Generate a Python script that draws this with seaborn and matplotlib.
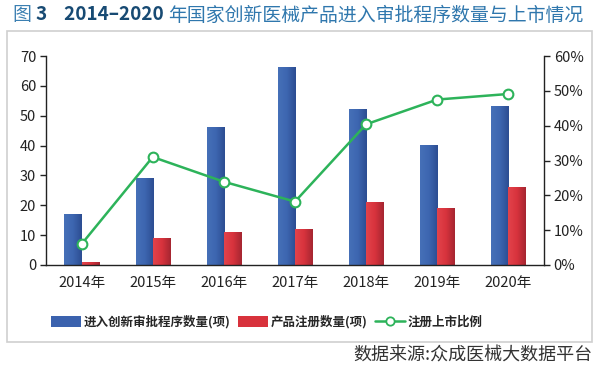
import numpy as np
import pandas as pd
import matplotlib
matplotlib.use("Agg")
import matplotlib.pyplot as plt
from matplotlib.patches import Rectangle, Patch
from matplotlib.lines import Line2D
from matplotlib.colors import LinearSegmentedColormap
from matplotlib.ticker import PercentFormatter
import seaborn as sns

# data
years = ["2014年", "2015年", "2016年", "2017年", "2018年", "2019年", "2020年"]
entered = [17, 29, 46, 66, 52, 40, 53]      # 进入创新审批程序数量(项)
registered = [1, 9, 11, 12, 21, 19, 26]     # 产品注册数量(项)
ratio = [6.0, 31.0, 23.9, 18.2, 40.4, 47.5, 49.1]  # 注册上市比例 (%)

name_a = "进入创新审批程序数量(项)"
name_b = "产品注册数量(项)"
name_c = "注册上市比例"

sns.set_style("white")
plt.rcParams["font.family"] = ["Noto Sans CJK SC", "DejaVu Sans"]
plt.rcParams["axes.unicode_minus"] = False

df = pd.DataFrame({"year": years * 2,
                   "count": entered + registered,
                   "series": [name_a] * 7 + [name_b] * 7})

blue = "#3b62ae"
red = "#d8323c"
green = "#2db35a"
blue_grad = LinearSegmentedColormap.from_list("b", ["#4670b8", "#3d66b0", "#2c4d92"])
red_grad = LinearSegmentedColormap.from_list("r", ["#e2434b", "#d8333d", "#a52631"])

fig = plt.figure(figsize=(6, 3.7), dpi=100)
ax = fig.add_axes([46 / 600, 1 - 265 / 370, 498 / 600, 209 / 370])

sns.barplot(data=df, x="year", y="count", hue="series", palette=[blue, red],
            width=0.48, ax=ax, legend=False, saturation=1)

# horizontal shading on each bar, like the original's 3d look
grad = np.linspace(0, 1, 64).reshape(1, -1)
for i, p in enumerate(list(ax.patches)):
    if p.get_height() <= 0:
        continue
    cm = blue_grad if p.get_facecolor()[2] > p.get_facecolor()[0] else red_grad
    x0, w, h = p.get_x(), p.get_width(), p.get_height()
    ax.imshow(grad, extent=[x0, x0 + w, 0, h], aspect="auto", cmap=cm,
              zorder=p.get_zorder() + 0.1, interpolation="bilinear")

ax.set_ylim(0, 70)
ax.set_yticks(range(0, 71, 10))
ax.set_xlim(-0.5, 6.5)
ax.set_xlabel("")
ax.set_ylabel("")

ax2 = ax.twinx()
sns.lineplot(x=np.arange(len(years)), y=ratio, ax=ax2, color=green, lw=1.8,
             marker="o", markersize=7, markerfacecolor="white",
             markeredgecolor=green, markeredgewidth=1.5)
ax2.set_ylim(0, 60)
ax2.set_yticks(range(0, 61, 10))
ax2.yaxis.set_major_formatter(PercentFormatter(decimals=0))
ax2.set_xlim(-0.5, 6.5)

for a in (ax, ax2):
    for s in a.spines.values():
        s.set_visible(False)
    a.tick_params(labelsize=10.5, colors="#222222", length=0)
ax.spines["left"].set_visible(True)
ax.spines["bottom"].set_visible(True)
ax2.spines["right"].set_visible(True)
for s in (ax.spines["left"], ax.spines["bottom"], ax2.spines["right"]):
    s.set_color("#222222")
    s.set_linewidth(1)
ax.tick_params(axis="y", length=4, width=1, direction="out", pad=3)
ax2.tick_params(axis="y", length=4, width=1, direction="out", pad=3)
ax.tick_params(axis="x", pad=8)

# outer frame
fig.patches.append(Rectangle((7 / 600, 1 - 342 / 370), 585 / 600, 311 / 370,
                             transform=fig.transFigure, fill=False,
                             edgecolor="#cfcfcf", lw=1.2))

# legend
handles = [Patch(facecolor=blue, edgecolor="none"),
           Patch(facecolor=red, edgecolor="none"),
           Line2D([], [], color=green, lw=1.8, marker="o", markersize=6,
                  markerfacecolor="white", markeredgecolor=green, markeredgewidth=1.3)]
fig.legend(handles, [name_a, name_b, name_c], loc="center",
           bbox_to_anchor=(0.445, 1 - 322 / 370), ncol=3, frameon=False,
           prop={"size": 9, "weight": "bold"}, handlelength=2.4,
           handleheight=0.9, handletextpad=0.2, columnspacing=0.6)

# title in pieces with different colours / weights
pieces = [("图 ", "#3c80b2", "normal"),
          ("3    2014–2020 ", "#174a73", "bold"),
          ("年国家创新医械产品进入审批程序数量与上市情况", "#2f77ad", "normal")]
fig.canvas.draw()
r = fig.canvas.get_renderer()
x = 13 / 600
for txt, col, w in pieces:
    t = fig.text(x, 1 - 15 / 370, txt, color=col, fontweight=w, fontsize=13.6,
                 va="center", ha="left")
    bb = t.get_window_extent(renderer=r)
    x += bb.width / fig.bbox.width

fig.text(592 / 600, 1 - 356 / 370, "数据来源:众成医械大数据平台", ha="right",
         va="center", fontsize=13, color="#333333")

fig.savefig("out.png", dpi=100)
